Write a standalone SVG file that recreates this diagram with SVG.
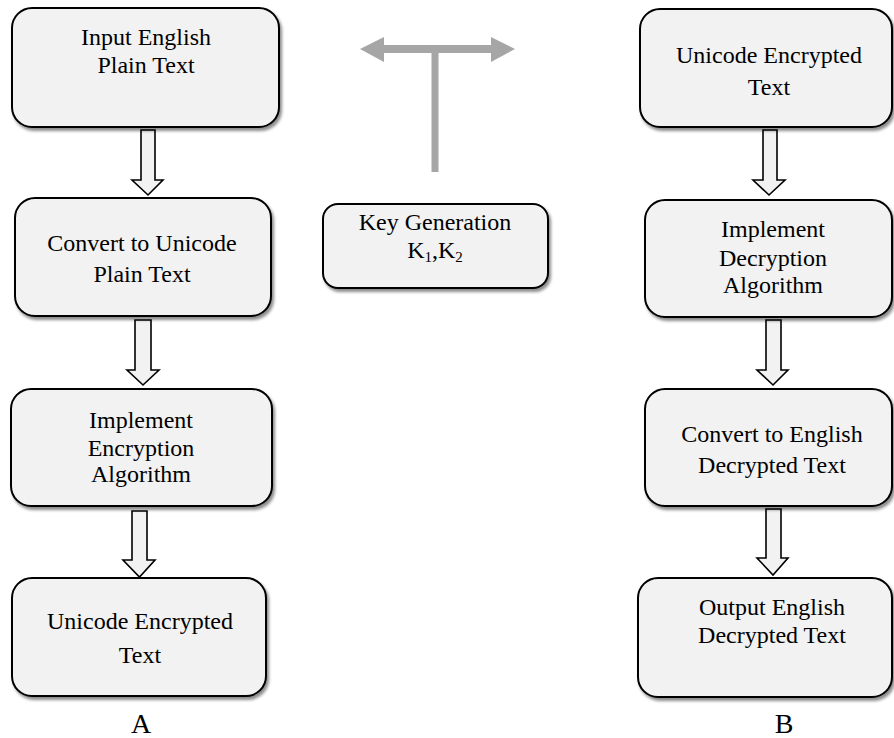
<svg xmlns="http://www.w3.org/2000/svg" width="894" height="738" viewBox="0 0 894 738">
<defs>
<filter id="sh" x="-10%" y="-10%" width="125%" height="130%">
<feDropShadow dx="2" dy="3" stdDeviation="1.6" flood-color="#000" flood-opacity="0.45"/>
</filter>
<style>
.box{fill:#f2f2f2;stroke:#000;stroke-width:2;filter:url(#sh)}
.t{font-family:"Liberation Serif","Times New Roman",serif;font-size:24px;fill:#000;text-anchor:middle}
.lbl{font-family:"Liberation Serif","Times New Roman",serif;font-size:28px;fill:#000;text-anchor:middle}
.arr{fill:#f2f2f2;stroke:#000;stroke-width:1.6;stroke-linejoin:miter}
.key{fill:#a6a6a6}
</style>
</defs>
<rect width="894" height="738" fill="#fff"/>
<g id="connectors">
<path class="arr" d="M141,130 H155 V180 H163 L148,195 L132,180 H141 Z"/>
<path class="arr" d="M135,320 H151 V370 H159 L143,385 L127,370 H135 Z"/>
<path class="arr" d="M132,511 H147 V560 H155 L139.5,577 L123,560 H132 Z"/>
<path class="arr" d="M763,130 H777 V180 H785 L769,195 L753,180 H763 Z"/>
<path class="arr" d="M766,320 H781 V370 H788 L773,385 L757,370 H766 Z"/>
<path class="arr" d="M766,509 H781 V558 H788 L773,575 L757,558 H766 Z"/>
<g id="key-arrow" class="key">
<rect x="431.5" y="49" width="7" height="123"/>
<rect x="381" y="45" width="113" height="8"/>
<polygon points="360,49 384,37 384,62"/>
<polygon points="515,49 491,37 491,62"/>
</g>
</g>
<g id="n1"><rect class="box" x="12" y="8" width="267" height="119" rx="20"/>
<text class="t" x="146" y="45">Input English</text><text class="t" x="146" y="73">Plain Text</text></g>
<g id="n2"><rect class="box" x="15" y="198" width="256" height="118" rx="20"/>
<text class="t" x="142" y="251">Convert to Unicode</text><text class="t" x="142" y="282">Plain Text</text></g>
<g id="n3"><rect class="box" x="11" y="389" width="261" height="117" rx="20"/>
<text class="t" x="141" y="428">Implement</text><text class="t" x="141" y="456">Encryption</text><text class="t" x="141" y="482">Algorithm</text></g>
<g id="n4"><rect class="box" x="12" y="578" width="254" height="118" rx="20"/>
<text class="t" x="140" y="629">Unicode Encrypted</text><text class="t" x="140" y="663">Text</text></g>
<g id="labelA"><text class="lbl" x="141" y="733">A</text></g>
<g id="keygen"><rect class="box" x="323" y="204" width="225" height="84" rx="15"/>
<text class="t" x="435" y="230">Key Generation</text>
<text class="t" x="435" y="258">K<tspan font-size="15" dy="4">1</tspan><tspan dy="-4">,K</tspan><tspan font-size="15" dy="4">2</tspan></text></g>
<g id="m1"><rect class="box" x="640" y="9" width="252" height="118" rx="20"/>
<text class="t" x="769" y="63">Unicode Encrypted</text><text class="t" x="769" y="95">Text</text></g>
<g id="m2"><rect class="box" x="645" y="200" width="247" height="117" rx="20"/>
<text class="t" x="773" y="237">Implement</text><text class="t" x="773" y="266">Decryption</text><text class="t" x="773" y="293">Algorithm</text></g>
<g id="m3"><rect class="box" x="645" y="389" width="247" height="117" rx="20"/>
<text class="t" x="772" y="442">Convert to English</text><text class="t" x="772" y="473">Decrypted Text</text></g>
<g id="m4"><rect class="box" x="638" y="578" width="254" height="119" rx="20"/>
<text class="t" x="772" y="615">Output English</text><text class="t" x="772" y="643">Decrypted Text</text></g>
<g id="labelB"><text class="lbl" x="784" y="733">B</text></g>
</svg>
